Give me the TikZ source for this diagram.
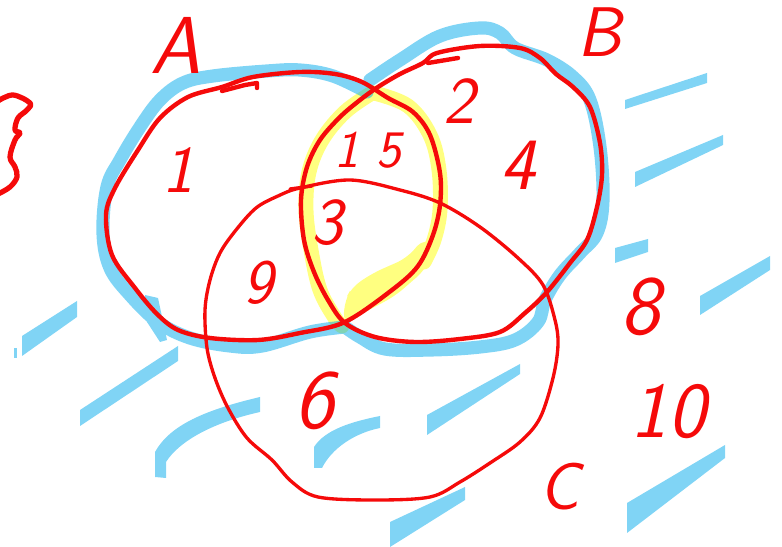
\documentclass[tikz,border=0pt]{standalone}

\begin{document}
\begin{tikzpicture}[
    x=0.02cm, y=-0.02cm,
    every node/.style={font=\sffamily},
]

% ---------------------------------------------------------------- colours
\definecolor{penred}{HTML}{F50A0A}      % the three sets, the labels
\definecolor{markblue}{HTML}{80D4F5}    % the background hatching
\definecolor{markraw}{HTML}{00AAEB}     % the rim of A or B, laid at half strength
\definecolor{markyellow}{HTML}{FFFF80}  % A and B together

% ================================================================
% one unit = one pixel of the sketch, y counted downwards
%   A left, B right, C below, all three meet round (330,220)
%   page is 782 x 547, the brace on the left runs off the edge
% ================================================================

\tikzset{
    rim/.style={draw=penred, line width=2.5pt, line join=round, line cap=round},
    rimthin/.style={draw=penred, line width=1.9pt, line join=round, line cap=round},
    band/.style={draw=markraw, draw opacity=0.5, line width=7.5pt,
        line cap=round, line join=round},
    glow/.style={draw=markyellow, line width=8.5pt, line cap=round, line join=round},
    brush/.style={fill=markblue},
    hand/.style={text=penred, inner sep=0pt,
        font=\sffamily\slshape\fontsize{#1}{#1}\selectfont},
}

\useasboundingbox (0,0) rectangle (782,547);

% ================================================================ hatching
\foreach \xa/\ya/\xb/\yb/\ta/\tb in {
    625/100/707/73/9/10, 635/172/723/135/15/10, 615/248/648/239/15/13,
    700/296/770/256/19/14, 22/336/77/301/20/16, 80/410/178/346/16/15,
    427/415/520/364/20/10, 390/522/465/487/25/13, 627/503/725/445/30/13} {
    \fill[brush] (\xa,\ya) -- (\xb,\yb) -- (\xb,{\yb+\tb}) -- (\xa,{\ya+\ta}) -- cycle;
}
% the two hooked strokes
\fill[brush] (155,477) -- (155,452) .. controls (170,425) and (205,410) .. (260,397)
    -- (260,412) .. controls (215,422) and (180,440) .. (166,462) -- (166,478) -- cycle;
\fill[brush] (314,468) -- (314,447) .. controls (325,430) and (350,422) .. (380,416)
    -- (380,428) .. controls (355,433) and (332,448) .. (322,468) -- cycle;
\fill[brush] (14,348) rectangle (17,358);

% ================================================================ A and B, yellow
\draw[glow] plot[smooth, tension=0.6] coordinates {(372,93) (345,112) (322,140)
    (309,172) (306,210) (311,250) (320,290) (335,318) (342,326)};
\draw[glow] plot[smooth, tension=0.6] coordinates {(374,93) (408,106) (430,135)
    (439,170) (440,210) (434,240) (424,262)};
\fill[markyellow, rounded corners=6pt] (343,324) -- (345,300) -- (352,287) -- (373,273)
    -- (407,258) -- (424,238) -- (436,245) -- (425,270) -- (395,296) -- cycle;

% ================================================================ A or B, blue rim
\draw[band]
    plot[smooth, tension=0.6] coordinates {(367,92) (333,76) (300,70) (267,71)
        (213,76) (183,83) (160,100) (140,127) (120,160) (107,187) (103,233)
        (110,268) (130,295) (158,322) (190,338) (230,346) (262,346) (310,332) (345,327)}
    plot[smooth, tension=0.6] coordinates {(370,80) (400,60) (440,36) (480,28)
        (500,33) (515,48) (547,60) (573,77) (590,100) (600,147) (603,200) (597,233)
        (580,253) (560,275) (545,300) (538,322) (515,340) (480,347) (430,350)
        (385,349) (360,337) (345,327)};
\fill[markblue] (145,295) -- (158,298) -- (167,340) -- (160,342) -- (147,322) -- cycle;

% ================================================================ the sets
% A
\draw[rim] plot[smooth cycle, tension=0.55] coordinates {(222,87) (253,77) (300,72)
    (335,74) (362,82) (388,98) (413,112) (430,135) (440,173) (440,205) (433,235)
    (418,266) (392,290) (345,322) (300,333) (258,340) (210,338) (178,330) (157,314)
    (135,288) (112,255) (106,215) (115,188) (138,150) (160,118) (188,97)};
\draw[rim] (222,91) -- (245,85) -- (257,83) -- (257,88);

% B
\draw[rim] plot[smooth cycle, tension=0.55] coordinates {(437,53) (480,46) (520,48)
    (540,58) (556,74) (573,87) (590,107) (600,143) (602,175) (597,207) (587,240)
    (570,263) (547,292) (525,313) (500,332) (460,339) (415,342) (375,337) (345,323)
    (328,300) (314,272) (304,240) (301,200) (307,167) (320,140) (340,117) (360,100)
    (378,87) (400,74) (423,63)};
\draw[rim] (428,63) -- (458,58);

% C
\draw[rimthin] plot[smooth cycle, tension=0.55] coordinates {(300,188) (350,180)
    (400,190) (440,203) (480,227) (518,258) (543,285) (555,320) (558,345) (553,378)
    (540,418) (520,442) (490,463) (460,482) (430,497) (375,500) (318,497) (292,482)
    (272,460) (247,438) (228,408) (215,378) (207,348) (205,310) (210,280) (220,253)
    (236,230) (256,208) (278,196)};
\draw[rimthin] (290,189) -- (312,186);

% the brace cut by the left edge
\draw[rim, line width=3pt] plot[smooth, tension=0.6] coordinates {(-2,101) (13,95)
    (30,103) (27,110) (18,118) (15,130) (20,133) (15,140) (10,157) (15,167) (17,177)
    (10,187) (-2,194)};

% ================================================================ labels
\foreach \nm/\x/\y/\sz/\txt in {
    setA/176/45/46/A, setB/599/32/40/B, setC/560/487/38/C,
    onlyA/178/170/38/1, bothAB/368/150/30/1 5, onlyB/459/101/38/2,
    rightB/518/165/42/4, allABC/327/223/38/3, AandC/258/283/36/9,
    onlyC/314/401/48/6, outA/640/307/48/8, outB/668/412/45/10} {
    \node[hand=\sz] (\nm) at (\x,\y) {\txt};
}

\end{tikzpicture}
\end{document}
